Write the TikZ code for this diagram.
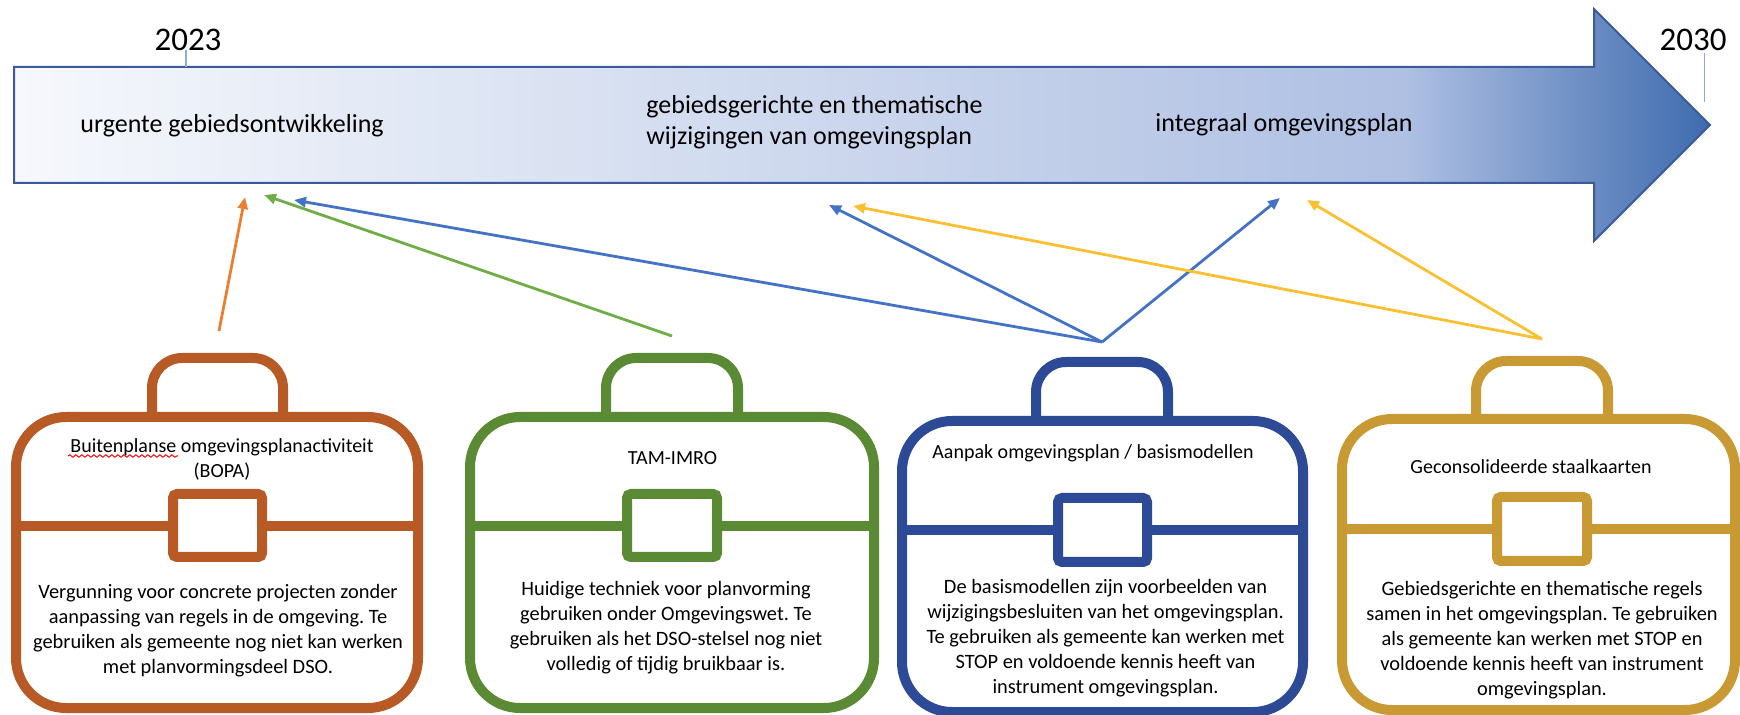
\documentclass[tikz,border=0pt]{standalone}
\usepackage{fontspec}
\setmainfont{Carlito}
\usetikzlibrary{arrows.meta,decorations.pathmorphing}
\frenchspacing
\definecolor{cOr}{RGB}{184,90,38}
\definecolor{cGr}{RGB}{90,138,52}
\definecolor{cBl}{RGB}{44,74,150}
\definecolor{cGo}{RGB}{201,153,52}
\definecolor{aOr}{RGB}{237,125,49}
\definecolor{aGr}{RGB}{112,173,71}
\definecolor{aBl}{RGB}{68,114,196}
\definecolor{aYe}{RGB}{250,192,50}
\definecolor{sA}{RGB}{246,248,252}
\definecolor{sB}{RGB}{175,192,227}
\definecolor{sC}{RGB}{62,107,174}
\definecolor{cBorder}{RGB}{60,90,154}
\definecolor{cTick}{RGB}{143,170,220}
\pgfdeclarehorizontalshading{tlshade}{100bp}{color(0bp)=(sA); color(25bp)=(sA); color(66bp)=(sB); color(75bp)=(sC); color(100bp)=(sC)}
\tikzset{
  bcase/.style={line width=5pt, draw=#1},
  conn/.style={line width=1.4pt, draw=#1, -{Triangle[length=6pt,width=5pt]}},
  bodytext/.style={align=center, inner sep=0pt, font=\fontsize{10.2}{12.5}\selectfont},
  titletext/.style={align=center, inner sep=0pt, font=\fontsize{10}{12.5}\selectfont},
  toplabel/.style={align=left, inner sep=0pt, font=\fontsize{13}{15.5}\selectfont, anchor=west},
  yearlabel/.style={inner sep=0pt, font=\fontsize{16.5}{19}\selectfont},
}
\begin{document}
\begin{tikzpicture}[x=0.5pt,y=-0.5pt]
\useasboundingbox (0,0) rectangle (1740,715);
% timeline arrow
\shadedraw[shading=tlshade, draw=cBorder, line width=1pt]
  (14,67) -- (1594,67) -- (1594,9) -- (1710,125) -- (1594,241) -- (1594,183) -- (14,183) -- cycle;
% years
\node[yearlabel] (y2023) at (188,40) {2023};
\node[yearlabel] (y2030) at (1693,40) {2030};
\draw[cTick, line width=0.6pt] (186,50) -- (186,67);
\draw[cTick, line width=0.6pt] (1704.5,53) -- (1704.5,102);
% top labels
\node[toplabel] (l1) at (80,126) {urgente gebiedsontwikkeling};
\node[toplabel] (l2) at (646,122.5) {gebiedsgerichte en thematische\\wijzigingen van omgevingsplan};
\node[toplabel] (l3) at (1155,125) {integraal omgevingsplan};
% connector endpoints
\coordinate (tOr) at (245,197);
\coordinate (tGr) at (264,195);
\coordinate (tB1) at (294,200);
\coordinate (tB2) at (829,205);
\coordinate (tB3) at (1280,198);
\coordinate (tY2) at (853,206);
\coordinate (tY3) at (1307,200);
\coordinate (sOr) at (219,331);
\coordinate (sGr) at (672,336);
\coordinate (sBl) at (1102,342);
\coordinate (sYe) at (1542,339);
\draw[conn=aOr] (sOr) -- (tOr);
\draw[conn=aGr] (sGr) -- (tGr);
\draw[conn=aBl] (sBl) -- (tB1);
\draw[conn=aBl] (sBl) -- (tB2);
\draw[conn=aBl] (sBl) -- (tB3);
\draw[conn=aYe] (sYe) -- (tY2);
\draw[conn=aYe] (sYe) -- (tY3);
% ---------- orange briefcase
\draw[bcase=cOr, rounded corners=25pt] (16,417) rectangle (418,708);
\draw[bcase=cOr, rounded corners=15pt] (152,417) -- (152,358) -- (283,358) -- (283,417);
\draw[bcase=cOr] (16,526) -- (173,526) (262,526) -- (418,526);
\draw[bcase=cOr, rounded corners=2pt] (173,494) rectangle (262,557);
\node[titletext] (t1) at (222,459.5) {Buitenplanse omgevingsplanactiviteit\\(BOPA)};
\draw[red, line width=0.5pt, decorate, decoration={snake, amplitude=0.6pt, segment length=3pt}] (68,456) -- (178,456);
\node[bodytext] (b1) at (218,630.5) {Vergunning voor concrete projecten zonder\\aanpassing van regels in de omgeving. Te\\gebruiken als gemeente nog niet kan werken\\met planvormingsdeel DSO.};
% ---------- green briefcase
\draw[bcase=cGr, rounded corners=25pt] (470,417) rectangle (874,708);
\draw[bcase=cGr, rounded corners=15pt] (606,417) -- (606,358) -- (738,358) -- (738,417);
\draw[bcase=cGr] (470,526) -- (627,526) (717,526) -- (874,526);
\draw[bcase=cGr, rounded corners=2pt] (627,494) rectangle (717,557);
\node[titletext] (t2) at (672.5,458) {TAM-IMRO};
\node[bodytext] (b2) at (666,627.5) {Huidige techniek voor planvorming\\gebruiken onder Omgevingswet. Te\\gebruiken als het DSO-stelsel nog niet\\volledig of tijdig bruikbaar is.};
% ---------- blue briefcase
\draw[bcase=cBl, rounded corners=25pt] (902,421) rectangle (1303,712);
\draw[bcase=cBl, rounded corners=15pt] (1036,421) -- (1036,362) -- (1168,362) -- (1168,421);
\draw[bcase=cBl] (902,530) -- (1058,530) (1147,530) -- (1303,530);
\draw[bcase=cBl, rounded corners=2pt] (1058,498) rectangle (1147,562);
\node[titletext] (t3) at (1093,453) {Aanpak omgevingsplan / basismodellen};
\node[bodytext] (b3) at (1105.5,638) {De basismodellen zijn voorbeelden van\\wijzigingsbesluiten van het omgevingsplan.\\Te gebruiken als gemeente kan werken met\\STOP en voldoende kennis heeft van\\instrument omgevingsplan.};
% ---------- gold briefcase
\draw[bcase=cGo, rounded corners=25pt] (1342,419) rectangle (1735,710);
\draw[bcase=cGo, rounded corners=15pt] (1476,419) -- (1476,361) -- (1608,361) -- (1608,419);
\draw[bcase=cGo] (1342,529) -- (1497,529) (1587,529) -- (1735,529);
\draw[bcase=cGo, rounded corners=2pt] (1497,497) rectangle (1587,561);
\node[titletext] (t4) at (1531,467) {Geconsolideerde staalkaarten};
\node[bodytext] (b4) at (1542,640) {Gebiedsgerichte en thematische regels\\samen in het omgevingsplan. Te gebruiken\\als gemeente kan werken met STOP en\\voldoende kennis heeft van instrument\\omgevingsplan.};
\end{tikzpicture}
\end{document}
